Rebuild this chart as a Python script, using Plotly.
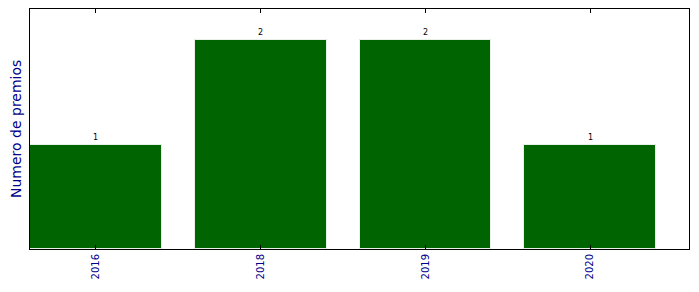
import plotly.graph_objects as go

years = ["2016", "2018", "2019", "2020"]
premios = [1, 2, 2, 1]

pos = list(range(len(years)))

fig = go.Figure()
fig.add_trace(go.Bar(
    x=pos, y=premios, width=0.8,
    marker=dict(color="#006400", line=dict(color="#e8f0e8", width=1)),
    hoverinfo="skip",
))

for p, v in zip(pos, premios):
    fig.add_annotation(x=p, y=v, text=str(v), showarrow=False,
                       yanchor="bottom", yshift=1,
                       font=dict(size=8, color="black", family="DejaVu Sans"))

fig.add_annotation(xref="paper", yref="paper", x=0, y=0.5, xshift=-14,
                   text="Numero de premios", textangle=-90, showarrow=False,
                   xanchor="center", yanchor="middle",
                   font=dict(size=14, color="darkblue", family="DejaVu Sans"))

fig.update_layout(
    width=699, height=292,
    margin=dict(l=30, r=10, t=9, b=43),
    paper_bgcolor="white", plot_bgcolor="white",
    showlegend=False,
    font=dict(family="DejaVu Sans"),
    bargap=0,
)
fig.update_xaxes(
    range=[-0.4, 3.6], tickmode="array", tickvals=pos, ticktext=years,
    tickangle=-90, ticks="inside", ticklen=4, tickcolor="black",
    tickfont=dict(size=10, color="darkblue", family="DejaVu Sans"),
    showline=True, linecolor="black", linewidth=1, mirror="ticks",
    showgrid=False, zeroline=False,
)
fig.update_yaxes(
    range=[0, 2.3], showticklabels=False, ticks="",
    showline=True, linecolor="black", linewidth=1, mirror=True,
    showgrid=False, zeroline=False,
)

fig.write_html("out.html")
